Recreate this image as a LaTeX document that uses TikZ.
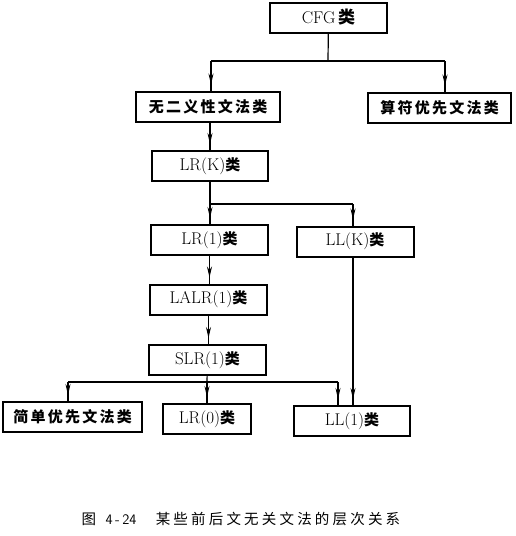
\documentclass[tikz,border=0pt]{standalone}
\usepackage{fontspec}
\usetikzlibrary{arrows.meta,decorations.markings}
\newfontfamily\cjk[LetterSpace=15]{Noto Sans CJK SC}
\newfontfamily\capcjk[LetterSpace=22]{Noto Sans CJK SC}
\begin{document}
\begin{tikzpicture}[x=1pt,y=-1pt,
  box/.style={draw, line width=2pt, inner sep=0pt, minimum height=30pt,
    font=\fontsize{17}{20}\selectfont},
  link/.style={line width=1.2pt},
  arrowmid/.style={postaction={decorate}, decoration={markings,
    mark=at position -6pt with {\arrow{Stealth[length=11pt,width=5pt]}}}}]
\useasboundingbox (0,0) rectangle (515,536);
% boxes
\node[box, minimum width=117pt] (cfg) at (328.5,17.5){CFG\,{\cjk\bfseries 类}};
\node[box, minimum width=144pt] (wuer) at (208,106.5){\fontsize{15}{18}\cjk\bfseries 无二义性文法类};
\node[box, minimum width=143pt] (suanfu) at (439.5,107.5){\fontsize{15}{18}\cjk\bfseries 算符优先文法类};
\node[box, minimum width=116pt] (lrk) at (210,166){LR(K){\fontsize{15}{18}\cjk\bfseries 类}};
\node[box, minimum width=117pt] (lr1) at (209.5,240){LR(1){\fontsize{15}{18}\cjk\bfseries 类}};
\node[box, minimum width=117pt] (llk) at (355,241.5){LL(K){\fontsize{15}{18}\cjk\bfseries 类}};
\node[box, minimum width=117pt] (lalr) at (208.5,299.5){LALR(1){\fontsize{15}{18}\cjk\bfseries 类}};
\node[box, minimum width=117pt] (slr) at (207.5,360){SLR(1){\fontsize{15}{18}\cjk\bfseries 类}};
\node[box, minimum width=139pt] (jiandan) at (72.5,417){\fontsize{15}{18}\cjk\bfseries 简单优先文法类};
\node[box, minimum width=88pt] (lr0) at (207,419){LR(0){\fontsize{15}{18}\cjk\bfseries 类}};
\node[box, minimum width=116pt] (ll1) at (352,421){LL(1){\fontsize{15}{18}\cjk\bfseries 类}};
\node[font=\fontsize{14.5}{17}\selectfont] (caption) at (241,519){{\capcjk 图}\ \ \textsf{4\,-\,24}\quad\ {\capcjk 某些前后文无关文法的层次关系}};
% CFG branches
\coordinate (j1) at (328,61);
\coordinate (j1l) at (211,61);
\coordinate (j1r) at (445,61);
\draw[link] (cfg) -- (j1);
\draw[link] (j1l) -- (j1r);
\draw[link, arrowmid] (j1l) -- (j1l |- wuer.north);
\draw[link, arrowmid] (j1r) -- (j1r |- suanfu.north);
\draw[link, arrowmid] (wuer.south -| lrk) -- (lrk);
% LR(K) branches
\coordinate (j2) at (210,204);
\coordinate (j2r) at (353,204);
\draw[link] (lrk) -- (j2);
\draw[link] (j2) -- (j2r);
\draw[link, arrowmid] (j2) -- (j2 |- lr1.north);
\draw[link, arrowmid] (j2r) -- (j2r |- llk.north);
\draw[link, arrowmid] (lr1) -- (lr1 |- lalr.north);
\draw[link, arrowmid] (lalr) -- (lalr |- slr.north);
\draw[link, arrowmid] (llk.south -| j2r) -- (j2r |- ll1.north);
% SLR(1) branches
\coordinate (j3) at (207,382);
\coordinate (j3l) at (68,382);
\coordinate (j3r) at (338,382);
\draw[link] (slr) -- (j3);
\draw[link] (j3l) -- (j3r);
\draw[link, arrowmid] (j3l) -- (j3l |- jiandan.north);
\draw[link, arrowmid] (j3) -- (j3 |- lr0.north);
\draw[link, arrowmid] (j3r) -- (j3r |- ll1.north);
\end{tikzpicture}
\end{document}
